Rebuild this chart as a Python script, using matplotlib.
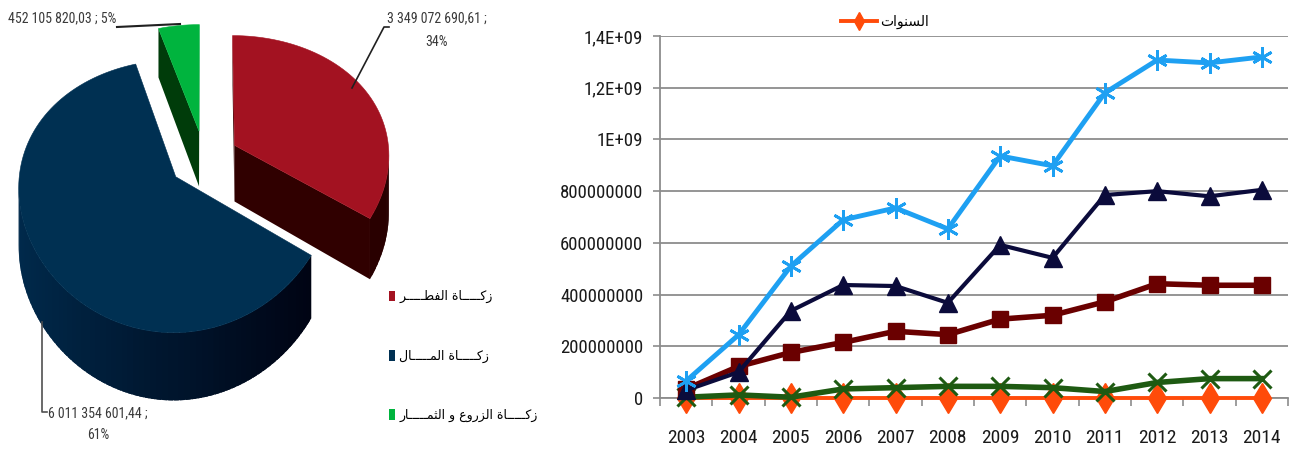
import numpy as np
import matplotlib
matplotlib.use('Agg')
import matplotlib.pyplot as plt
import matplotlib.colors as mcolors
from matplotlib import font_manager
from matplotlib.patches import Polygon, Patch
from matplotlib.ticker import FixedLocator, FuncFormatter

# pie: share of each zakat type over the whole period
pie_labels = ['زكـــــاة الفطـــــر', 'زكـــــاة المـــــال', 'زكـــــاة الزروع و الثمـــــار']
pie_values = [3349072690.61, 6011354601.44, 452105820.03]
pie_top = ['#A31221', '#003052', '#00B43E']
pie_side_light = ['#330000', '#002A4C', '#003D0A']
pie_side_dark = ['#280000', '#00000E', '#002205']

# yearly amounts
years = [2003, 2004, 2005, 2006, 2007, 2008, 2009, 2010, 2011, 2012, 2013, 2014]
fitr = [35e6, 122e6, 176e6, 215e6, 258e6, 245e6, 305e6, 320e6, 372e6, 442e6, 436e6, 436e6]
mal = [30e6, 100e6, 337e6, 437e6, 433e6, 368e6, 592e6, 542e6, 785e6, 800e6, 780e6, 805e6]
zuru = [3e6, 12e6, 3e6, 35e6, 40e6, 45e6, 45e6, 40e6, 25e6, 60e6, 75e6, 75e6]
total = [66e6, 244e6, 510e6, 689e6, 735e6, 654e6, 936e6, 898e6, 1180e6, 1307e6, 1296e6, 1319e6]
years_label = 'السنوات'

# --- arabic shaping (matplotlib draws glyphs left to right, unjoined) ---
AR_FORMS = {
    'ا': (0xFE8D, 0xFE8E), 'ز': (0xFEAF, 0xFEB0), 'ر': (0xFEAD, 0xFEAE),
    'و': (0xFEED, 0xFEEE), 'ة': (0xFE93, 0xFE94),
    'ت': (0xFE95, 0xFE96, 0xFE97, 0xFE98), 'ث': (0xFE99, 0xFE9A, 0xFE9B, 0xFE9C),
    'س': (0xFEB1, 0xFEB2, 0xFEB3, 0xFEB4), 'ط': (0xFEC1, 0xFEC2, 0xFEC3, 0xFEC4),
    'ع': (0xFEC9, 0xFECA, 0xFECB, 0xFECC), 'ف': (0xFED1, 0xFED2, 0xFED3, 0xFED4),
    'ك': (0xFED9, 0xFEDA, 0xFEDB, 0xFEDC), 'ل': (0xFEDD, 0xFEDE, 0xFEDF, 0xFEE0),
    'م': (0xFEE1, 0xFEE2, 0xFEE3, 0xFEE4), 'ن': (0xFEE5, 0xFEE6, 0xFEE7, 0xFEE8),
}
TATWEEL = 'ـ'


def arabic(s):
    def dual(c):
        return c == TATWEEL or len(AR_FORMS.get(c, ())) == 4

    def joins(c):
        return c == TATWEEL or c in AR_FORMS

    out = []
    for i, c in enumerate(s):
        if c not in AR_FORMS:
            out.append(c)
            continue
        prev = i > 0 and dual(s[i - 1])
        nxt = dual(c) and i + 1 < len(s) and joins(s[i + 1])
        f = AR_FORMS[c]
        if prev and nxt:
            g = f[3]
        elif prev:
            g = f[1]
        elif nxt:
            g = f[2]
        else:
            g = f[0]
        out.append(chr(g))
    return ''.join(out[::-1])


names = {f.name for f in font_manager.fontManager.ttflist}
narrow = next((n for n in ['Liberation Sans Narrow', 'Roboto Condensed', 'Liberation Sans']
               if n in names), 'DejaVu Sans')
AR_FONT = 'DejaVu Sans'

fig = plt.figure(figsize=(12.93, 4.5), dpi=100)

# ---------------- 3D pie ----------------
axp = fig.add_axes([0, 0, 400 / 1293, 1])
axp.set_xlim(0, 400)
axp.set_ylim(450, 0)
axp.axis('off')

R, e, T = 155.0, 0.83, 57.0
bx, by = 0.07, 0.14          # perspective shrink of the far side
cx, cy = 204.0, 159.0
explode = 35.0


def project(u, w, z):
    px = 1.0 / (1.0 + bx * w / R)
    py = 1.0 / (1.0 + by * w / R)
    return cx + u * px, cy - (w * e + z) * py


def mix(c1, c2, t):
    a1 = np.array(mcolors.to_rgb(c1))
    a2 = np.array(mcolors.to_rgb(c2))
    return tuple(a1 * (1 - t) + a2 * t)


fracs = np.array(pie_values) / sum(pie_values)
bounds = np.concatenate([[0], np.cumsum(fracs)]) * 2 * np.pi
walls, tops = [], []
for i in range(len(pie_values)):
    a0, a1 = bounds[i], bounds[i + 1]
    mid = (a0 + a1) / 2
    ou, ow = explode * np.sin(mid), explode * np.cos(mid)
    n = max(int(np.degrees(a1 - a0) / 2), 2)
    angs = np.linspace(a0, a1, n + 1)
    step = (a1 - a0) / n
    ru = ou + R * np.sin(angs)
    rw = ow + R * np.cos(angs)
    tops.append(([project(ou, ow, 0)] + [project(u, w, 0) for u, w in zip(ru, rw)], pie_top[i]))
    # outer wall in thin strips, slightly overlapping so no seams show
    for k in range(n):
        s0 = max(a0, angs[k] - 0.4 * step)
        s1 = min(a1, angs[k + 1] + 0.4 * step)
        p0 = (ou + R * np.sin(s0), ow + R * np.cos(s0))
        p1 = (ou + R * np.sin(s1), ow + R * np.cos(s1))
        quad = [(*p0, 0), (*p1, 0), (*p1, -T), (*p0, -T)]
        walls.append((quad, np.sin((s0 + s1) / 2), i))
    su, sw = ou + R * np.sin(a0), ow + R * np.cos(a0)
    eu, ew = ou + R * np.sin(a1), ow + R * np.cos(a1)
    walls.append(([(ou, ow, 0), (su, sw, 0), (su, sw, -T), (ou, ow, -T)], -np.cos(a0), i))
    walls.append(([(ou, ow, 0), (ou, ow, -T), (eu, ew, -T), (eu, ew, 0)], np.cos(a1), i))

walls.sort(key=lambda wl: -np.mean([p[1] for p in wl[0]]))
for quad, nu, i in walls:
    pts = np.array([project(*p) for p in quad])
    x_, y_ = pts[:, 0], pts[:, 1]
    area = np.sum(x_ * np.roll(y_, -1) - np.roll(x_, -1) * y_)
    if area >= 0:
        continue
    col = mix(pie_side_light[i], pie_side_dark[i], (1 + nu) / 2)
    axp.add_patch(Polygon(pts, closed=True, fc=col, ec='none'))

for pts, col in tops:
    axp.add_patch(Polygon(pts, closed=True, fc=col, ec=col, lw=0.4))


def money(v):
    return f'{v:,.2f}'.replace(',', ' ').replace('.', ',')


pct = [round(100 * f) for f in fracs]
lab_kw = dict(family=narrow, fontsize=10, color='#3a3a3a')
axp.text(437, 30, f'{money(pie_values[0])} ;\n{pct[0]}%', ha='center', va='center',
         linespacing=1.9, **lab_kw)
axp.text(98, 424, f'{money(pie_values[1])} ;\n{pct[1]}%', ha='center', va='center',
         linespacing=1.7, clip_on=False, **lab_kw)
axp.text(8, 18, f'{money(pie_values[2])} ; {pct[2]}%', ha='left', va='center', **lab_kw)
axp.plot([389, 384, 352], [27, 27, 88], color='#202020', lw=1.2, clip_on=False)
axp.plot([42, 42, 47], [322, 412, 412], color='#505050', lw=1.2)
axp.plot([117, 180], [27, 24], color='#202020', lw=1.5)

fig.legend(handles=[Patch(fc=c, ec='none') for c in pie_top],
           labels=[arabic(s) for s in pie_labels],
           loc='upper left', bbox_to_anchor=(383 / 1293, 1 - 284 / 450),
           frameon=False, handlelength=0.45, handleheight=0.95, handletextpad=0.35,
           labelspacing=3.7, borderpad=0, prop=dict(family=AR_FONT, size=9))

# ---------------- line chart ----------------
ax = fig.add_axes([660 / 1293, 1 - 398 / 450, (1288 - 660) / 1293, (398 - 36) / 450])
x = np.arange(len(years))
grey = '#8c8c8c'

l_years, = ax.plot(x, years, color='#FF4B0A', lw=2.8, marker='d', ms=15, clip_on=False, zorder=3)
ax.plot(x, zuru, color='#1E5A12', lw=4, marker='x', ms=13, mew=2.2, clip_on=False, zorder=4)
ax.plot(x, fitr, color='#6A0000', lw=4, marker='s', ms=12, clip_on=False, zorder=5)
ax.plot(x, mal, color='#0B0B3B', lw=3, marker='^', ms=13, clip_on=False, zorder=6)
ax.plot(x, total, color='#1EA0F2', lw=3.5, marker=(6, 2, 0), ms=15, mew=2, clip_on=False, zorder=7)

ax.set_xlim(-0.5, len(years) - 0.5)
ax.set_ylim(0, 1.4e9)


def excel_general(v, pos):
    if v >= 1e9:
        return f'{v:.1E}'.replace('.0E', 'E').replace('.', ',')
    return f'{v:.0f}'


ax.yaxis.set_major_locator(FixedLocator(np.arange(0, 1.41e9, 2e8)))
ax.yaxis.set_major_formatter(FuncFormatter(excel_general))
ax.set_xticks(x)
ax.set_xticklabels([str(y) for y in years])
ax.set_xticks(np.arange(-0.5, len(years), 1), minor=True)
ax.tick_params(axis='x', which='major', length=0, pad=22, labelsize=14, labelcolor='#1a1a1a')
ax.tick_params(axis='x', which='minor', length=6, color=grey, width=1.2)
ax.tick_params(axis='y', length=5, color=grey, width=1.2, pad=7, labelsize=13.5, labelcolor='#1a1a1a')
for lab in ax.get_xticklabels() + ax.get_yticklabels():
    lab.set_family(narrow)

ax.yaxis.grid(True, color=grey, lw=1.3)
ax.set_axisbelow(True)
for s in ['top', 'right']:
    ax.spines[s].set_visible(False)
for s in ['left', 'bottom']:
    ax.spines[s].set_color(grey)
    ax.spines[s].set_linewidth(1.3)

ax.legend(handles=[l_years], labels=[arabic(years_label)], loc='center left',
          bbox_to_anchor=(834 / 1293, 1 - 22 / 450), bbox_transform=fig.transFigure,
          frameon=False, handlelength=2.6, handletextpad=0.2, borderpad=0, markerscale=0.6,
          prop=dict(family=AR_FONT, size=10))

fig.savefig('out.png', dpi=100)
